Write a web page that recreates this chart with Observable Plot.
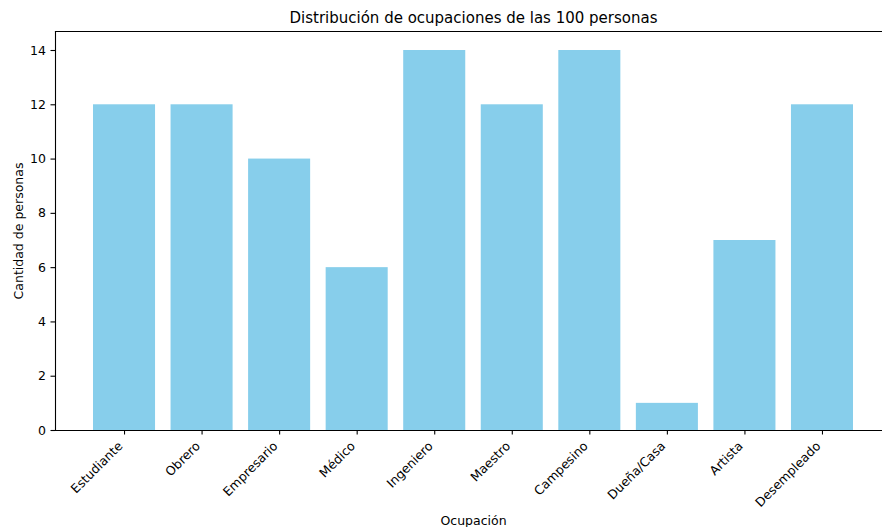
<!DOCTYPE html>
<html>
<head>
<meta charset="utf-8">
<script src="https://cdn.jsdelivr.net/npm/d3@7"></script>
<script src="https://cdn.jsdelivr.net/npm/@observablehq/plot@0.6"></script>
<style>
  html, body { margin: 0; padding: 0; background: #fff; overflow: hidden; }
  svg { display: block; }
</style>
</head>
<body>
<div id="chart"></div>
<script>
const occupations = ["Estudiante", "Obrero", "Empresario", "Médico", "Ingeniero", "Maestro", "Campesino", "Dueña/Casa", "Artista", "Desempleado"];
const counts = [12, 12, 10, 6, 14, 12, 14, 1, 7, 12];
const yTicks = [0, 2, 4, 6, 8, 10, 12, 14];
const title = "Distribución de ocupaciones de las 100 personas";
const xLabel = "Ocupación";
const yLabel = "Cantidad de personas";

const data = occupations.map((o, i) => ({occ: o, count: counts[i]}));
const font = "DejaVu Sans, sans-serif";
const fs = 12.5;

const chart = Plot.plot({
  width: 882,
  height: 527,
  marginLeft: 55,
  marginRight: 0,
  marginTop: 31,
  marginBottom: 97,
  style: {fontFamily: font, fontSize: fs + "px", color: "#000", background: "#fff"},
  x: {domain: occupations, range: [55, 891], paddingInner: 0.2, paddingOuter: 0.49, align: 0.5, round: false},
  y: {domain: [0, 14.7]},
  marks: [
    Plot.barY(data, {x: "occ", y: "count", fill: "#87CEEB"}),
    Plot.axisY({ticks: yTicks, tickSize: 4.5, tickPadding: 5, label: null, fontSize: fs, stroke: "#000", strokeWidth: 1.1}),
    Plot.axisX({tickSize: 4.5, tickFormat: () => "", label: null, stroke: "#000", strokeWidth: 1.1}),
    Plot.axisX({tickSize: 0, tickPadding: 9.5, tickRotate: -45, label: null, fontSize: fs, dx: -4, dy: 4}),
    Plot.frame({anchor: "left", stroke: "#000", strokeWidth: 1.1}),
    Plot.frame({anchor: "top", stroke: "#000", strokeWidth: 1.1}),
    Plot.frame({anchor: "bottom", stroke: "#000", strokeWidth: 1.1}),
    Plot.text([title], {frameAnchor: "top", lineAnchor: "middle", dx: 4.5, dy: -13, fontSize: 15, fill: "#000"}),
    Plot.text([xLabel], {frameAnchor: "bottom", lineAnchor: "middle", dx: 4.5, dy: 90, fontSize: fs, fill: "#000"}),
    Plot.text([yLabel], {frameAnchor: "left", textAnchor: "middle", lineAnchor: "middle", dx: -37, rotate: -90, fontSize: fs, fill: "#000"})
  ]
});
document.getElementById("chart").appendChild(chart);
</script>
</body>
</html>
